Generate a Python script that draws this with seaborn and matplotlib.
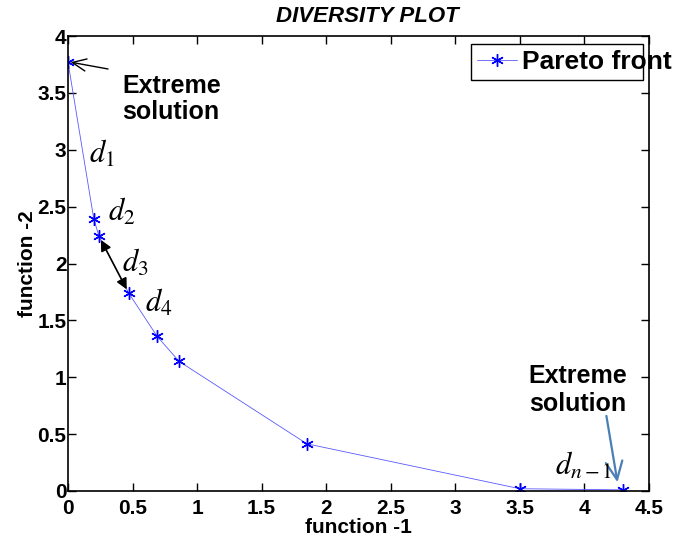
import matplotlib
matplotlib.use("Agg")
import matplotlib.pyplot as plt
from matplotlib.patches import Rectangle
import seaborn as sns
import pandas as pd

# Pareto front samples (function -1, function -2)
f1 = [0.00, 0.20, 0.24, 0.47, 0.69, 0.86, 1.85, 3.50, 4.30]
f2 = [3.77, 2.39, 2.24, 1.74, 1.36, 1.14, 0.415, 0.02, 0.01]
x_ticks = [0, 0.5, 1, 1.5, 2, 2.5, 3, 3.5, 4, 4.5]
y_ticks = [0, 0.5, 1, 1.5, 2, 2.5, 3, 3.5, 4]
x_tick_labels = ["0", "0.5", "1", "1.5", "2", "2.5", "3", "3.5", "4", "4.5"]
y_tick_labels = ["0", "0.5", "1", "1.5", "2", "2.5", "3", "3.5", "4"]

df = pd.DataFrame({"function -1": f1, "function -2": f2})

sns.set_theme(style="ticks")
plt.rcParams["font.family"] = ["Liberation Sans", "DejaVu Sans"]
plt.rcParams["mathtext.fontset"] = "stix"
plt.rcParams["text.color"] = "black"
plt.rcParams["axes.labelcolor"] = "black"
plt.rcParams["xtick.color"] = "black"
plt.rcParams["ytick.color"] = "black"

W, H = 683, 542
fig = plt.figure(figsize=(W / 100, H / 100), dpi=100)
ax = fig.add_axes([68 / W, 1 - 491 / H, (649 - 68) / W, (491 - 36) / H])

sns.lineplot(data=df, x="function -1", y="function -2", sort=False, ax=ax,
             color=(0.35, 0.35, 1.0), linewidth=0.6,
             marker=(6, 2, 0), markersize=9, markeredgecolor="blue",
             markeredgewidth=1.0, label="Pareto front", legend=False)

ax.set_xlim(0, 4.5)
ax.set_ylim(0, 4)
ax.set_xticks(x_ticks)
ax.set_xticklabels(x_tick_labels)
ax.set_yticks(y_ticks)
ax.set_yticklabels(y_tick_labels)
ax.tick_params(direction="in", top=True, right=True, length=6, width=1,
               labelsize=15)
ax.tick_params(axis="x", pad=6)
ax.tick_params(axis="y", pad=1)
for lab in ax.get_xticklabels() + ax.get_yticklabels():
    lab.set_fontweight("bold")
for sp in ax.spines.values():
    sp.set_linewidth(1.2)
    sp.set_color("black")

ax.set_xlabel("function -1", fontsize=15, fontweight="bold", labelpad=0)
ax.set_ylabel("function -2", fontsize=15, fontweight="bold", labelpad=0)
ax.set_title("DIVERSITY PLOT", fontsize=16, fontweight="bold",
             fontstyle="italic", pad=10, x=0.515)

# Legend: fixed frame, label running past its right edge
frame = Rectangle((471 / W, 1 - 80 / H), (643 - 471) / W, 36 / H,
                  transform=fig.transFigure, facecolor="white",
                  edgecolor="black", linewidth=1.0, clip_on=False, zorder=4)
ax.add_patch(frame)
leg = ax.legend(loc="center left", bbox_to_anchor=(477 / W, 1 - 62 / H),
                bbox_transform=fig.transFigure, fontsize=19, frameon=False,
                borderpad=0, borderaxespad=0, handlelength=1.52,
                handletextpad=0.2)
leg.set_zorder(5)
for t in leg.get_texts():
    t.set_fontweight("bold")

# Extreme solution at the top-left end of the front
ax.text(0.42, 3.45, "Extreme\nsolution", fontsize=18, fontweight="bold",
        ha="left", va="center", linespacing=1.1)
ax.annotate("", xy=(f1[0] + 0.02, f2[0]), xytext=(0.31, 3.71),
            arrowprops=dict(arrowstyle="->,head_length=0.5,head_width=0.22",
                            color="black", lw=1.0, shrinkA=0, shrinkB=0,
                            mutation_scale=20))
# Extreme solution at the bottom-right end of the front
ax.text(3.95, 0.89, "Extreme\nsolution", fontsize=18, fontweight="bold",
        ha="center", va="center", linespacing=1.2)
ax.annotate("", xy=(4.256, 0.077), xytext=(4.17, 0.66),
            arrowprops=dict(arrowstyle="->,head_length=0.65,head_width=0.3",
                            color="#4a7fb5", lw=1.6, shrinkA=0, shrinkB=0,
                            mutation_scale=20))

# Distance between consecutive solutions
ax.annotate("", xy=(f1[2], f2[2]), xytext=(f1[3], f2[3]),
            arrowprops=dict(arrowstyle="<|-|>", color="black", lw=1.2,
                            shrinkA=3, shrinkB=3, mutation_scale=16))

d_labels = [r"$d_1$", r"$d_2$", r"$d_3$", r"$d_4$", r"$d_{n-1}$"]
d_x = [0.16, 0.31, 0.42, 0.60, 3.77]
d_y = [2.96, 2.45, 2.00, 1.65, 0.22]
for lab, xx, yy in zip(d_labels, d_x, d_y):
    ax.text(xx, yy, lab, fontsize=22, ha="left", va="center", color="black")

fig.savefig("out.png", dpi=100)
